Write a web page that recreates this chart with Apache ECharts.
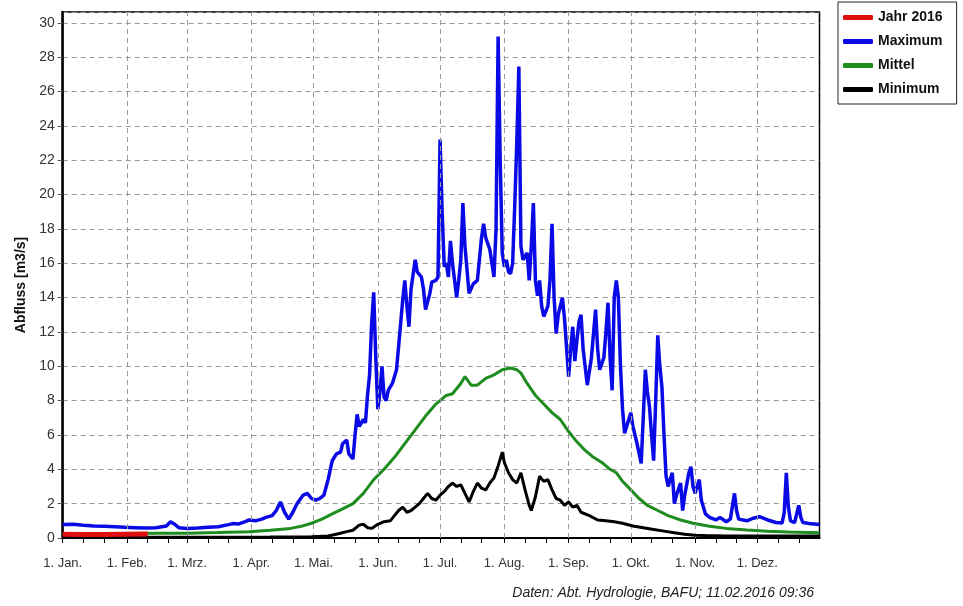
<!DOCTYPE html>
<html>
<head>
<meta charset="utf-8">
<script src="https://cdn.jsdelivr.net/npm/echarts@6/dist/echarts.min.js"></script>
<style>
html,body{margin:0;padding:0;background:#fff;}
#c{width:963px;height:606px;}
</style>
</head>
<body>
<div id="c"></div>
<script>
// Day of year (0 = 1 Jan 2016) for each month start and its label
const monthStarts = [0, 31, 60, 91, 121, 152, 182, 213, 244, 274, 305, 335];
const monthLabels = ['1. Jan.', '1. Feb.', '1. Mrz.', '1. Apr.', '1. Mai.', '1. Jun.', '1. Jul.', '1. Aug.', '1. Sep.', '1. Okt.', '1. Nov.', '1. Dez.'];
const yTicks = [0, 2, 4, 6, 8, 10, 12, 14, 16, 18, 20, 22, 24, 26, 28, 30];

// Jahr 2016
const jahrDays = [0, 10, 20, 30, 41];
const jahrVals = [0.22, 0.21, 0.2, 0.22, 0.24];

// Maximum
const maxDays = [0,5,10,15,20,25,30,35,40,45,50,52,54,56,60,65,70,75,80,82,85,88,90,93,96,98,101,103,105,107,109,111,113,116,118,120,122,124,126,128,130,132,134,135,137,138,140,141,142,143,145,146,147,148,149,150,151,152,153,154,155,156,157,159,161,163,164,165,166,167,168,170,171,173,174,175,177,178,180,181,182,183,184,185,186,187,188,190,191,192,193,194,196,198,200,202,203,204,206,207,208,209,210,211,212,213,214,215,216,217,218,219,220,221,222,224,225,226,227,228,229,230,231,232,234,235,236,237,238,239,241,242,244,245,246,247,248,249,250,251,253,255,257,258,259,261,262,263,264,265,266,267,268,269,270,271,272,274,275,276,277,279,280,281,282,283,284,285,286,287,288,289,290,291,292,294,295,296,298,299,300,302,303,304,305,306,307,308,310,312,315,317,320,322,324,325,326,330,333,336,340,344,347,348,349,350,351,353,355,356,357,360,365];
const maxVals = [0.78,0.8,0.74,0.7,0.68,0.66,0.62,0.6,0.58,0.6,0.7,0.95,0.8,0.6,0.56,0.58,0.62,0.66,0.78,0.84,0.82,0.95,1.05,1.0,1.1,1.2,1.3,1.6,2.1,1.5,1.1,1.5,2.0,2.5,2.6,2.3,2.2,2.3,2.5,3.4,4.5,4.9,5.0,5.5,5.7,4.9,4.6,6.0,7.2,6.5,6.9,6.7,8.3,9.5,12.5,14.3,10.5,7.5,8.5,10.0,8.2,8.0,8.6,9.0,9.8,12.5,13.9,15.0,13.5,12.3,14.5,16.2,15.5,15.2,14.5,13.3,14.2,14.9,15.0,15.2,23.2,19.0,15.8,16.0,15.2,17.3,16.0,14.0,15.0,16.2,19.5,17.0,14.25,14.8,15.0,17.5,18.3,17.5,16.8,16.0,15.2,18.0,29.2,22.0,16.6,15.8,16.2,15.5,15.4,16.0,19.3,23.0,27.45,17.0,16.2,16.6,15.0,17.0,19.5,15.0,14.1,15.0,13.5,12.9,13.5,15.0,18.3,14.0,11.9,13.0,14.0,12.8,9.4,11.0,12.3,10.3,11.5,12.6,13.0,11.0,8.9,10.5,13.3,11.0,9.8,10.5,12.0,13.7,10.5,8.6,14.0,15.0,14.0,10.0,7.5,6.1,6.5,7.3,6.5,6.0,5.5,4.35,7.0,9.8,8.5,7.65,6.0,4.5,8.0,11.8,10.0,8.8,6.0,3.6,3.0,3.8,2.0,2.5,3.2,1.6,2.5,3.8,4.15,3.0,2.6,3.0,3.4,2.2,1.4,1.2,1.05,1.2,0.95,1.1,2.6,1.6,1.1,1.0,1.15,1.24,1.05,0.9,0.88,1.5,3.8,1.8,1.0,0.9,1.9,1.2,0.9,0.85,0.78];

// Mittel
const mitDays = [0,15,30,45,60,75,90,100,110,115,120,125,130,135,140,145,150,155,160,165,170,175,180,185,188,192,194,197,200,204,208,212,216,219,221,224,228,232,236,240,244,248,252,256,260,264,267,270,274,278,282,287,292,298,304,312,320,330,340,350,365];
const mitVals = [0.25,0.25,0.26,0.27,0.28,0.32,0.37,0.45,0.56,0.68,0.86,1.1,1.4,1.7,2.0,2.6,3.4,4.0,4.7,5.5,6.3,7.1,7.8,8.3,8.4,9.0,9.4,8.9,8.9,9.3,9.5,9.8,9.9,9.8,9.6,9.0,8.3,7.8,7.3,6.9,6.2,5.6,5.1,4.7,4.4,4.0,3.8,3.3,2.8,2.3,1.9,1.6,1.3,1.05,0.86,0.68,0.56,0.46,0.4,0.35,0.3];

// Minimum
const minDays = [0,60,100,120,128,133,137,140,143,145,147,149,152,155,158,160,162,164,166,168,170,172,174,176,178,180,182,184,186,188,190,192,194,196,198,200,202,204,206,208,210,212,213,215,217,219,221,223,225,226,228,230,232,234,236,238,240,242,244,246,248,250,254,258,262,266,270,275,280,285,290,295,300,305,310,320,340,365];
const minVals = [0.05,0.05,0.06,0.08,0.12,0.25,0.37,0.45,0.75,0.8,0.6,0.56,0.8,0.95,1.0,1.3,1.6,1.8,1.5,1.6,1.8,2.0,2.3,2.6,2.3,2.2,2.5,2.7,3.0,3.2,3.0,3.1,2.6,2.1,2.7,3.2,2.9,2.8,3.2,3.5,4.2,5.0,4.4,3.8,3.4,3.2,3.8,2.8,1.9,1.6,2.4,3.6,3.3,3.4,2.8,2.3,2.2,1.9,2.1,1.8,1.9,1.5,1.3,1.05,1.0,0.95,0.86,0.7,0.6,0.5,0.4,0.3,0.22,0.16,0.14,0.12,0.12,0.12];

const zip = (a, b) => a.map((d, i) => [d, b[i]]);
const tickDays = [];
monthStarts.forEach(m => { tickDays.push(m, m + 10, m + 20); });

const FONT = 'Liberation Sans';
const chart = echarts.init(document.getElementById('c'), null, {renderer: 'canvas'});
const dash = [5, 4];

chart.setOption({
  animation: false,
  backgroundColor: '#ffffff',
  textStyle: {fontFamily: FONT},
  grid: {left: 62.7, right: 143.5, top: 12, bottom: 68, show: true, borderColor: '#000', borderWidth: 1.5},
  legend: {
    orient: 'vertical', left: 838, top: 2,
    data: ['Jahr 2016', 'Maximum', 'Mittel', 'Minimum'],
    icon: 'roundRect', itemWidth: 30, itemHeight: 5, itemGap: 9,
    padding: [8, 14, 7, 5],
    borderColor: '#222', borderWidth: 1,
    textStyle: {fontFamily: FONT, fontSize: 14, fontWeight: 'bold', color: '#111', lineHeight: 15}
  },
  xAxis: {
    type: 'value', min: 0, max: 365,
    axisLine: {show: true, lineStyle: {color: '#000', width: 2}},
    axisTick: {show: true, customValues: tickDays, length: 5, lineStyle: {color: '#000', width: 1}},
    axisLabel: {
      customValues: monthStarts, margin: 19, fontSize: 13, color: '#333', fontFamily: FONT,
      formatter: v => { const i = monthStarts.indexOf(Math.round(v)); return i >= 0 ? monthLabels[i] : ''; }
    },
    splitLine: {show: false}
  },
  yAxis: {
    type: 'value', min: 0, max: 30.63, interval: 2,
    name: 'Abfluss [m3/s]', nameLocation: 'middle', nameGap: 22, nameRotate: 90,
    nameTextStyle: {fontFamily: FONT, fontSize: 14, fontWeight: 'bold', color: '#111', padding: [0, 20, 0, 0]},
    axisLine: {show: true, lineStyle: {color: '#000', width: 2.5}},
    axisTick: {show: true, length: 5, lineStyle: {color: '#555'}},
    axisLabel: {fontSize: 14, color: '#333', margin: 8, showMaxLabel: false, fontFamily: FONT,
      formatter: v => (yTicks.indexOf(v) >= 0 ? String(v) : '')},
    splitLine: {show: true, lineStyle: {color: '#9a9a9a', type: dash, width: 1}}
  },
  graphic: [{
    type: 'text', right: 149, top: 586,
    style: {text: 'Daten: Abt. Hydrologie, BAFU; 11.02.2016 09:36', fontFamily: FONT, fontSize: 14, fontStyle: 'italic', fill: '#222'}
  }],
  series: [
    {
      name: 'grid', type: 'line', data: [], z: 1, silent: true,
      markLine: {
        silent: true, symbol: 'none', label: {show: false},
        lineStyle: {color: '#9a9a9a', type: dash, width: 1},
        data: monthStarts.slice(1).map(d => ({xAxis: d}))
      }
    },
    {name: 'Maximum', type: 'line', data: zip(maxDays, maxVals), showSymbol: false, z: 3,
      color: '#0a0ae6', lineStyle: {color: '#0a0ae6', width: 3.5}},
    {name: 'Mittel', type: 'line', data: zip(mitDays, mitVals), showSymbol: false, z: 4,
      color: '#1e8c1e', lineStyle: {color: '#1e8c1e', width: 3}},
    {name: 'Minimum', type: 'line', data: zip(minDays, minVals), showSymbol: false, z: 5,
      color: '#000000', lineStyle: {color: '#000000', width: 3}},
    {name: 'Jahr 2016', type: 'line', data: zip(jahrDays, jahrVals), showSymbol: false, z: 6,
      color: '#e01010', lineStyle: {color: '#e01010', width: 5}}
  ]
});
</script>
</body>
</html>
